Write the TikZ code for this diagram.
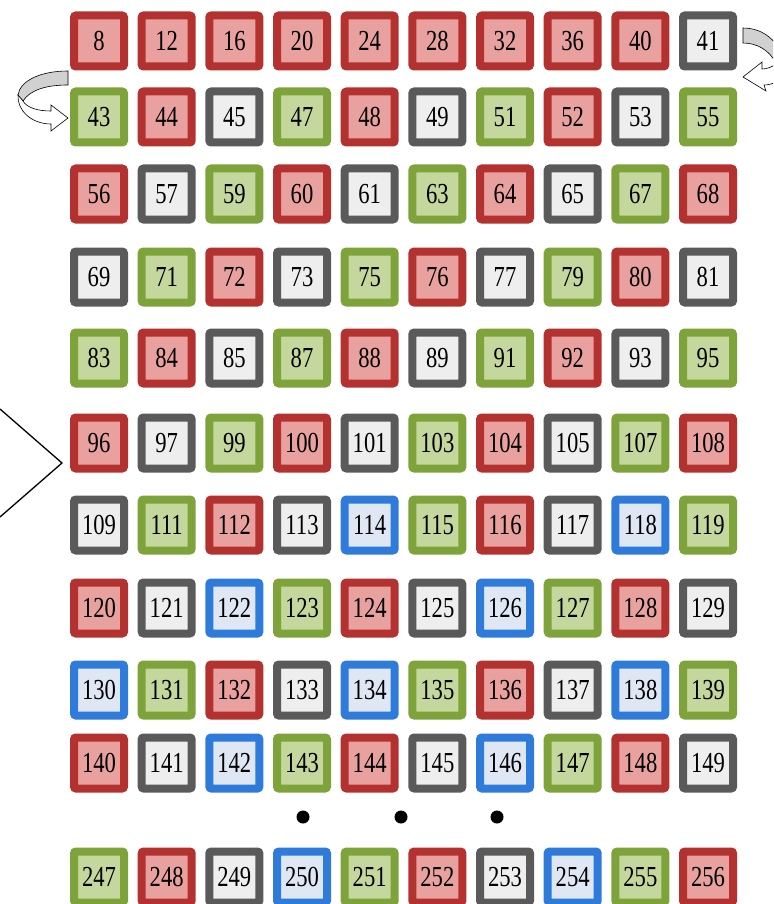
\documentclass[tikz,border=0pt]{standalone}
\usepackage{fontspec}
\setmainfont{Liberation Serif}
\newfontfamily\cellfont[FakeStretch=0.78]{Liberation Serif}
\definecolor{rB}{HTML}{B3322F}
\definecolor{rF}{HTML}{E9A19F}
\definecolor{kB}{HTML}{5A5A5A}
\definecolor{kF}{HTML}{EEEEEE}
\definecolor{gB}{HTML}{7DA33A}
\definecolor{gF}{HTML}{C4D79D}
\definecolor{bB}{HTML}{2E7BD9}
\definecolor{bF}{HTML}{DFE7F4}
\tikzset{
  cell/.style={rectangle, rounded corners=2pt, line width=8pt, minimum width=50pt, minimum height=51pt, inner sep=0pt, font=\cellfont\fontsize{29}{29}\selectfont},
  boxR/.style={cell, draw=rB, fill=rF},
  boxK/.style={cell, draw=kB, fill=kF},
  boxG/.style={cell, draw=gB, fill=gF},
  boxB/.style={cell, draw=bB, fill=bF},
  bandback/.style={draw=black, line width=0.6pt, fill=black!18},
  bandfront/.style={draw=black, line width=0.6pt, fill=white},
  dotmark/.style={circle, fill=black, inner sep=0pt, minimum size=13pt}
}
\def\rowA{8/R,12/R,16/R,20/R,24/R,28/R,32/R,36/R,40/R,41/K}
\def\rowB{43/G,44/R,45/K,47/G,48/R,49/K,51/G,52/R,53/K,55/G}
\def\rowC{56/R,57/K,59/G,60/R,61/K,63/G,64/R,65/K,67/G,68/R}
\def\rowD{69/K,71/G,72/R,73/K,75/G,76/R,77/K,79/G,80/R,81/K}
\def\rowE{83/G,84/R,85/K,87/G,88/R,89/K,91/G,92/R,93/K,95/G}
\def\rowF{96/R,97/K,99/G,100/R,101/K,103/G,104/R,105/K,107/G,108/R}
\def\rowG{109/K,111/G,112/R,113/K,114/B,115/G,116/R,117/K,118/B,119/G}
\def\rowH{120/R,121/K,122/B,123/G,124/R,125/K,126/B,127/G,128/R,129/K}
\def\rowI{130/B,131/G,132/R,133/K,134/B,135/G,136/R,137/K,138/B,139/G}
\def\rowJ{140/R,141/K,142/B,143/G,144/R,145/K,146/B,147/G,148/R,149/K}
\def\rowK{247/G,248/R,249/K,250/B,251/G,252/R,253/K,254/B,255/G,256/R}
\begin{document}
\begin{tikzpicture}[x=1pt,y=-1pt]
\useasboundingbox (0,0) rectangle (773,904);
\clip (0,0) rectangle (773,904);
\foreach \r/\yy in {A/41,B/117,C/194,D/277,E/358,F/443,G/525,H/608,I/690,J/763,K/877}{
  \expandafter\let\expandafter\curlst\csname row\r\endcsname
  \foreach \n/\c [count=\i from 0] in \curlst {
    \node[box\c] (b\n) at ({99+67.67*\i}, \yy) {\n};
  }
}
% dots
\node[dotmark] (d1) at (303,817) {};
\node[dotmark] (d2) at (401,817) {};
\node[dotmark] (d3) at (497,817) {};
% left angle
\coordinate (la) at (0,409);
\coordinate (lb) at (62,463);
\coordinate (lc) at (0,517);
\draw[line width=1.3pt] (la) -- (lb) -- (lc);
% top-left curved arrow
\draw[bandback] (68,71) .. controls (40,71) and (20,81) .. (18,95) -- (23,101) .. controls (30,90) and (46,85) .. (68,85) -- cycle;
\draw[bandfront] (18,95) .. controls (17,110) and (31,124) .. (51,124) -- (51,131) -- (68,118) -- (51,105) -- (51,111) .. controls (38,111) and (27,108) .. (23,101) -- cycle;
% top-right curved arrow
\draw[bandback] (743,28) .. controls (757,28) and (768,34) .. (776,44) -- (776,63) .. controls (769,50) and (757,43) .. (743,43) -- cycle;
\draw[bandfront] (743,77) -- (762,62) -- (762,69) .. controls (767,69) and (772,67) .. (776,64) -- (776,82) .. controls (772,84) and (768,85) .. (764,85) -- (766,91) -- cycle;
\end{tikzpicture}
\end{document}
